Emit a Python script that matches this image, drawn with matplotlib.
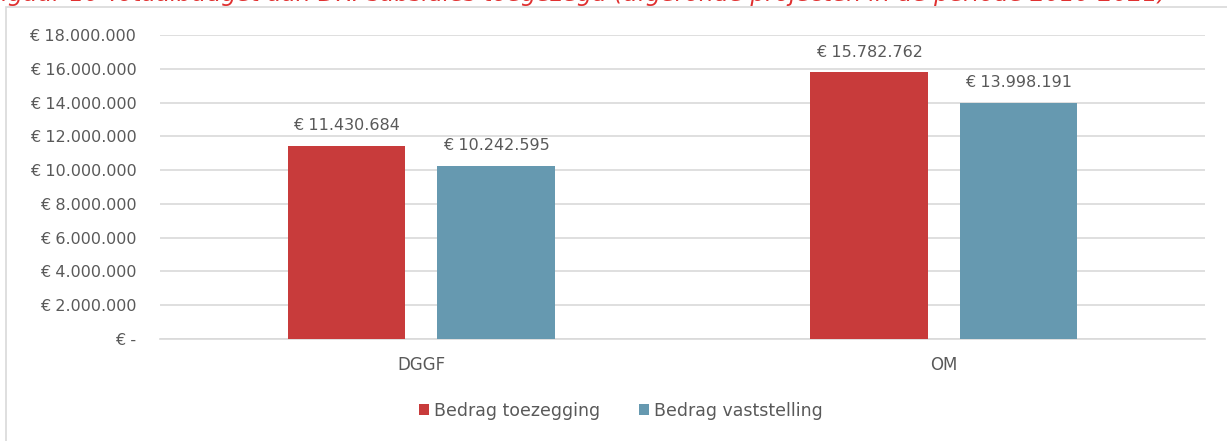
import matplotlib
matplotlib.use("Agg")
import matplotlib.pyplot as plt
from matplotlib.patches import Rectangle
import numpy as np

categories = ["DGGF", "OM"]
series_names = ["Bedrag toezegging", "Bedrag vaststelling"]
toezegging = [11430684, 15782762]
vaststelling = [10242595, 13998191]
yticks = [0, 2000000, 4000000, 6000000, 8000000, 10000000, 12000000, 14000000, 16000000, 18000000]

red = "#C83B3B"
blue = "#6699B0"
txt = "#595959"
grid = "#D9D9D9"

plt.rcParams['font.family'] = ['DejaVu Sans']

def eur(v):
    if v == 0:
        return "€ -"
    return "€ " + f"{v:,.0f}".replace(",", ".")

fig = plt.figure(figsize=(12.27, 4.41), dpi=100)
# outer chart frame
fig.patches.append(Rectangle((6/1227, -0.1), 1.2, (441-6.5)/441 + 0.1, transform=fig.transFigure,
                             fill=False, edgecolor="#D9D9D9", linewidth=1.2))
# clipped title (cut off at the top edge in the reference)
fig.text(-12/1227, 1 - 0.5/441, "Figuur 10 Totaalbudget aan DRI-subsidies toegezegd (afgeronde projecten in de periode 2010-2021)",
         color="#E03030", fontsize=16.8, style="italic", ha="left", va="baseline")

ax = fig.add_axes([160/1227, 1 - 339/441, (1205-160)/1227, (339-35)/441])
x = np.arange(len(categories))
w = 0.225
off = 0.143
ax.bar(x - off, toezegging, w, color=red, label=series_names[0], zorder=3)
ax.bar(x + off, vaststelling, w, color=blue, label=series_names[1], zorder=3)
for xi, v in zip(x - off, toezegging):
    ax.text(xi, v + 750000, eur(v), ha="center", va="bottom", color=txt, fontsize=11.5)
for xi, v in zip(x + off, vaststelling):
    ax.text(xi, v + 750000, eur(v), ha="center", va="bottom", color=txt, fontsize=11.5)

ax.set_xlim(-0.5, 1.5)
ax.set_ylim(0, 18000000)
ax.set_yticks(yticks)
ax.set_yticklabels([eur(v) for v in yticks], color=txt, fontsize=11.5)
ax.set_xticks(x)
ax.set_xticklabels(categories, color=txt, fontsize=12)
ax.tick_params(axis="both", length=0)
ax.tick_params(axis="y", pad=17)
ax.tick_params(axis="x", pad=12)
ax.grid(axis="y", color=grid, linewidth=1.2, zorder=0)
for s in ["top", "right", "left"]:
    ax.spines[s].set_visible(False)
ax.spines["bottom"].set_color(grid)
ax.spines["bottom"].set_linewidth(1.2)

leg = fig.legend(loc="center", bbox_to_anchor=(621/1227, 1 - 411/441), ncol=2, frameon=False,
                 fontsize=12.5, handlelength=0.6, handleheight=0.6, handletextpad=0.3, columnspacing=2.2)
for t in leg.get_texts():
    t.set_color(txt)

fig.savefig("out.png", dpi=100)
